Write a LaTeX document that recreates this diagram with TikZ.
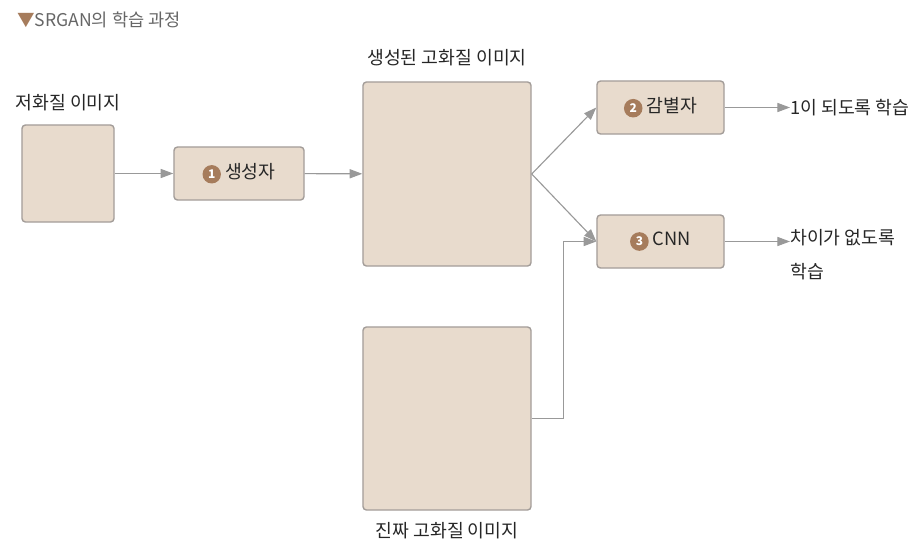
\documentclass[tikz,border=0pt]{standalone}
\usepackage{fontspec}
\setmainfont{Noto Sans CJK KR}
\usetikzlibrary{positioning,arrows.meta}
\definecolor{boxfill}{HTML}{E8DBCD}
\definecolor{boxline}{HTML}{A39D99}
\definecolor{arrgray}{HTML}{999999}
\definecolor{numbrown}{HTML}{A67C5C}
\definecolor{txtgray}{HTML}{262626}
\tikzset{
  imgbox/.style={draw=boxline, fill=boxfill, line width=1pt, rounded corners=2.5pt, inner sep=0pt},
  arr/.style={draw=arrgray, line width=0.8pt, -{Triangle[length=9pt,width=6.5pt]}},
  lbl/.style={text=txtgray, font=\fontsize{13}{22}\selectfont, inner sep=0pt},
}
% 단계 번호 동그라미
\newcommand{\stepnum}[1]{\tikz[baseline=(c.base)]\node[circle, draw=none, fill=numbrown, text=white, minimum size=0pt, inner sep=1.8pt, font=\fontsize{8.5}{8.5}\bfseries\selectfont](c){#1};}
\begin{document}
\begin{tikzpicture}[x=0.025cm, y=-0.025cm]
\useasboundingbox (0,0) rectangle (913,552);
\node[anchor=west, inner sep=0pt, text=gray!80!black, font=\fontsize{12.5}{12.5}\selectfont] (title) at (17,20) {\textcolor{numbrown}{▼}SRGAN의 학습 과정};
%상자
\node[imgbox, minimum width=2.3cm, minimum height=2.425cm] (low) at (68,173.5) {};
\node[imgbox, lbl, minimum width=3.25cm, minimum height=1.325cm] (gen) at (239,173.5) {\stepnum{1} 생성자};
\node[imgbox, minimum width=4.2cm, minimum height=4.6cm] (fake) at (447,174) {};
\node[imgbox, lbl, minimum width=3.175cm, minimum height=1.325cm] (disc) at (660.5,107.5) {\stepnum{2} 감별자};
\node[imgbox, lbl, minimum width=3.175cm, minimum height=1.325cm] (cnn) at (660.5,241.5) {\stepnum{3} CNN};
\node[imgbox, minimum width=4.2cm, minimum height=4.575cm] (real) at (447,418.5) {};
%이미지 이름
\node[lbl, above=0.33cm of low] (lowname) {저화질 이미지};
\node[lbl, above=0.38cm of fake] (fakename) {생성된 고화질 이미지};
\node[lbl, below=0.28cm of real] (realname) {진짜 고화질 이미지};
%결과
\node[lbl, anchor=west] (res1) at (790,107.5) {1이 되도록 학습};
\node[lbl, anchor=north west, align=left, font=\fontsize{13}{24.5}\selectfont] (res2) at (790,229) {차이가 없도록\\학습};
%화살표
\draw[arr] (low) -- (gen);
\draw[arr] (gen) -- (fake);
\draw[arr] (fake.east) -- (disc.west);
\draw[arr] (fake.east) -- (cnn.west);
\draw[arr] (real.east) -- ++(32,0) |- (cnn.west);
\draw[arr] (disc.east) -- (res1.west);
\draw[arr] (cnn.east) -- (cnn.east -| res2.west);
\end{tikzpicture}
\end{document}
